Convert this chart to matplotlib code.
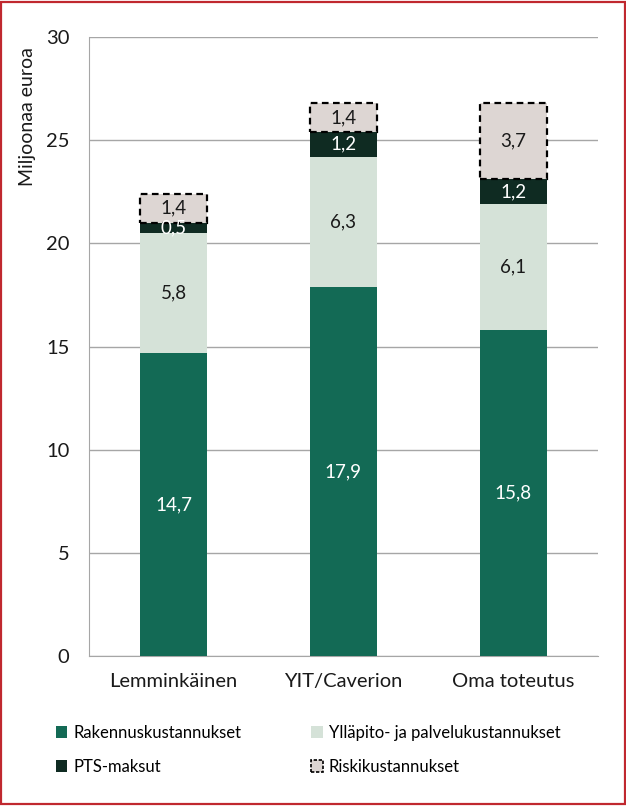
import matplotlib; matplotlib.use('Agg')
import matplotlib.pyplot as plt
import matplotlib.patches as patches
import numpy as np

plt.rcParams['font.family'] = ['Lato', 'DejaVu Sans']

categories = ['Lemminkäinen', 'YIT/Caverion', 'Oma toteutus']
rakennus = [14.7, 17.9, 15.8]
yllapito = [5.8, 6.3, 6.1]
pts = [0.5, 1.2, 1.2]
riski = [1.4, 1.4, 3.7]

series_names = ['Rakennuskustannukset', 'Ylläpito- ja palvelukustannukset',
                'PTS-maksut', 'Riskikustannukset']
yticks = [0, 5, 10, 15, 20, 25, 30]

C_RAK = '#136a55'
C_YLL = '#d5e2d8'
C_PTS = '#0f2b22'
C_RIS = '#ddd6d3'
GRID = '#a6a6a6'

fig = plt.figure(figsize=(6.26, 8.06), dpi=100)
fig.patch.set_facecolor('white')
ax = fig.add_axes([0.142, 0.186, 0.813, 0.768])

x = np.arange(len(categories))
w = 0.395

def fmt(v):
    return f'{v:.1f}'.replace('.', ',')

bottom = np.zeros(len(categories))
layers = [
    (rakennus, C_RAK, 'white', None),
    (yllapito, C_YLL, '#1a1a1a', None),
    (pts, C_PTS, 'white', None),
    (riski, C_RIS, '#1a1a1a', 'dash'),
]
for vals, col, tcol, style in layers:
    vals = np.array(vals)
    if style == 'dash':
        ax.bar(x, vals, w, bottom=bottom, color=col, edgecolor='black',
               linewidth=1.6, linestyle=(0, (3, 2)), zorder=3)
    else:
        ax.bar(x, vals, w, bottom=bottom, color=col, edgecolor='none', zorder=3)
    for xi, b, v in zip(x, bottom, vals):
        ax.text(xi, b + v / 2, fmt(v), ha='center', va='center',
                fontsize=13.5, color=tcol, zorder=4)
    bottom = bottom + vals

ax.set_xlim(-0.5, 2.5)
ax.set_ylim(0, 30)
ax.set_yticks(yticks)
ax.set_yticklabels([str(t) for t in yticks])
ax.set_xticks(x)
ax.set_xticklabels(categories)
ax.tick_params(axis='both', length=0, labelsize=14.5, colors='#1a1a1a')
ax.tick_params(axis='y', pad=14)
ax.tick_params(axis='x', pad=12)
ax.grid(axis='y', color=GRID, linewidth=1.0, zorder=0)
for s in ['top', 'right']:
    ax.spines[s].set_visible(False)
ax.spines['left'].set_color(GRID)
ax.spines['bottom'].set_color(GRID)
ax.set_ylabel('Miljoonaa euroa', fontsize=14, color='#1a1a1a')
ax.yaxis.set_label_coords(-0.104, 0.872)

handles = [
    patches.Patch(facecolor=C_RAK, edgecolor='none'),
    patches.Patch(facecolor=C_YLL, edgecolor='none'),
    patches.Patch(facecolor=C_PTS, edgecolor='none'),
    patches.Patch(facecolor=C_RIS, edgecolor='black', linestyle=(0, (2, 1)), linewidth=1.2),
]
order = [0, 2, 1, 3]
fig.legend([handles[i] for i in order], [series_names[i] for i in order],
           ncol=2, loc='upper left', bbox_to_anchor=(0.065, 0.119),
           frameon=False, fontsize=12, handlelength=0.7, handleheight=0.7,
           handletextpad=0.35, columnspacing=4.2, labelspacing=1.05)

fig.add_artist(patches.Rectangle((0.002, 0.002), 0.996, 0.996, transform=fig.transFigure,
                                 fill=False, edgecolor='#c0282f', linewidth=1.6))

fig.savefig('out.png', dpi=100)
